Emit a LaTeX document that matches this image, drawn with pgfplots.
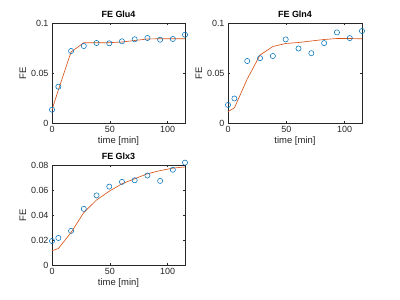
\documentclass[border=0pt]{standalone}
\usepackage{pgfplots}
\pgfplotsset{compat=1.18}
\usepackage{fontspec}
\setmainfont{Liberation Sans}
\definecolor{mblue}{rgb}{0,0.447,0.741}
\definecolor{morange}{rgb}{0.85,0.325,0.098}
\definecolor{axgray}{rgb}{0.15,0.15,0.15}
\pgfplotsset{
  mystyle/.style={
    scale only axis, anchor=south west,
    xmin=0, xmax=115, ymin=0,
    xtick={0,50,100},
    axis line style={axgray, line width=0.5pt},
    tick style={axgray, line width=0.4pt},
    major tick length=2.5pt,
    tick align=inside,
    ticklabel style={font=\fontsize{9}{10}\selectfont, text=axgray},
    /pgf/number format/assume math mode=true,
    label style={font=\fontsize{9.5}{11}\selectfont, text=axgray},
    title style={font=\bfseries\fontsize{9}{10}\selectfont, text=black, yshift=-4pt},
    xlabel={time [min]}, ylabel={FE},
    xlabel style={yshift=3pt},
    ylabel style={yshift=-2pt},
    clip=false,
    /pgf/number format/fixed,
    scaled y ticks=false,
  },
  marks/.style={only marks, mark=o, mark size=2.6pt, mblue, mark options={line width=0.55pt}},
  fit/.style={no marks, morange, line width=0.65pt},
}
\begin{document}
\begin{tikzpicture}
\path (0bp,0bp) rectangle (400bp,300bp);
\begin{axis}[mystyle, at={(52bp,177bp)}, width=133bp, height=100bp, ymax=0.1, ytick={0,0.05,0.1}, title={FE Glu4}]
\addplot[marks] coordinates {(0,0.0133)(5.5,0.0363)(16.5,0.072)(27.5,0.077)(38.5,0.080)(49.5,0.0797)(60.5,0.0817)(71.5,0.0837)(82.5,0.085)(93.5,0.0833)(104.5,0.084)(115,0.0883)};
\addplot[fit] coordinates {(0,0.0133)(5.5,0.033)(16.5,0.071)(27.5,0.0803)(38.5,0.0803)(49.5,0.0803)(60.5,0.081)(71.5,0.0825)(82.5,0.084)(93.5,0.0843)(104.5,0.0843)(115,0.0843)};
\end{axis}
\begin{axis}[mystyle, at={(228bp,177bp)}, width=134bp, height=100bp, ymax=0.1, ytick={0,0.05,0.1}, title={FE Gln4}]
\addplot[marks] coordinates {(0,0.0181)(5.5,0.0245)(16.5,0.062)(27.5,0.0648)(38.5,0.067)(49.5,0.0836)(60.5,0.0745)(71.5,0.0698)(82.5,0.0799)(93.5,0.0906)(104.5,0.0849)(115,0.092)};
\addplot[fit] coordinates {(0,0.0114)(5.5,0.0151)(16.5,0.044)(27.5,0.068)(38.5,0.0765)(49.5,0.0795)(60.5,0.0805)(71.5,0.082)(82.5,0.0835)(93.5,0.0845)(104.5,0.0845)(115,0.0842)};
\end{axis}
\begin{axis}[mystyle, at={(52bp,35bp)}, width=133bp, height=100bp, ymax=0.08, ytick={0,0.02,0.04,0.06,0.08}, title={FE Glx3}]
\addplot[marks] coordinates {(0,0.0192)(5.5,0.0216)(16.5,0.0273)(27.5,0.0449)(38.5,0.0557)(49.5,0.0627)(60.5,0.0665)(71.5,0.0678)(82.5,0.0716)(93.5,0.0673)(104.5,0.0762)(115,0.0819)};
\addplot[fit] coordinates {(0,0.0114)(5.5,0.0132)(16.5,0.026)(27.5,0.042)(38.5,0.052)(49.5,0.059)(60.5,0.065)(71.5,0.069)(82.5,0.073)(93.5,0.0755)(104.5,0.0775)(115,0.0785)};
\end{axis}
\end{tikzpicture}
\end{document}
